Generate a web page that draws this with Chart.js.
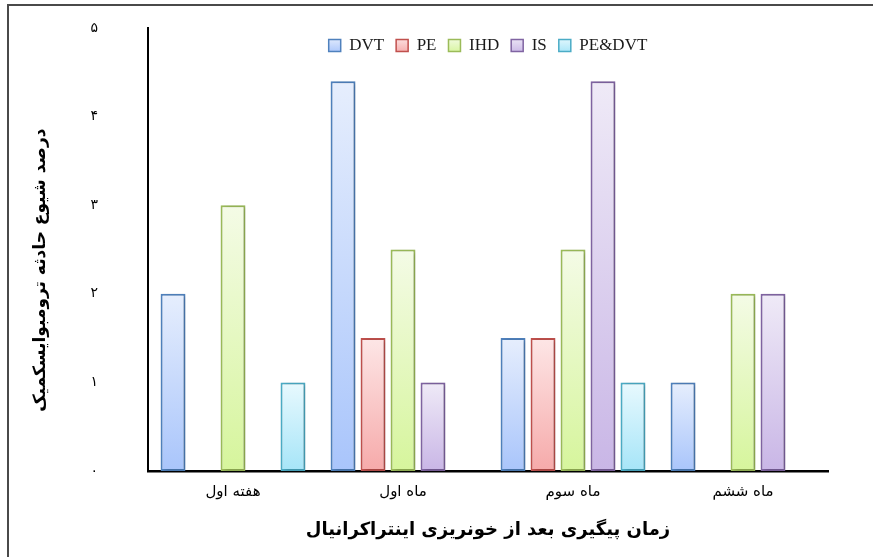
<!DOCTYPE html>
<html lang="fa">
<head>
<meta charset="utf-8">
<title>درصد شیوع حادثه ترومبوایسکمیک</title>
<script src="https://cdn.jsdelivr.net/npm/chart.js@4.4.1/dist/chart.umd.min.js"></script>
<style>
  html, body { margin: 0; padding: 0; background: #fff; }
  #wrap { position: relative; width: 873px; height: 557px; overflow: hidden; }
  #frame {
    position: absolute; left: 7px; top: 4px; right: 0; bottom: 0;
    border-top: 2px solid #4a4a4a; border-left: 2px solid #4a4a4a;
  }
  #chart { position: absolute; left: 0; top: 0; }
</style>
</head>
<body>
<div id="wrap">
  <div id="frame"></div>
  <canvas id="chart" width="873" height="557"></canvas>
</div>
<script>
// data
const categories = ["هفته اول", "ماه اول", "ماه سوم", "ماه ششم"];
const dvtValues = [2, 4.4, 1.5, 1];
const peValues = [0, 1.5, 1.5, 0];
const ihdValues = [3, 2.5, 2.5, 2];
const isValues = [0, 1, 4.4, 2];
const peDvtValues = [1, 0, 1, 0];
const yTickLabels = ["۰", "۱", "۲", "۳", "۴", "۵"];

const seriesNames = ["DVT", "PE", "IHD", "IS", "PE&DVT"];
const seriesValues = [dvtValues, peValues, ihdValues, isValues, peDvtValues];
// [top of gradient, bottom of gradient, border]
const seriesColors = [
  ["#e6eefd", "#a9c5fb", "#4f81bd"],
  ["#fde6e6", "#f6aaaa", "#c0504d"],
  ["#f4fbe6", "#d6f59c", "#9bbb59"],
  ["#efeaf7", "#c9b6e6", "#8064a2"],
  ["#e8f9fe", "#a6e5f8", "#4bacc6"]
];

const LEGEND_PAD = 12;
const LEGEND_ITEM_TOP = 37; // where the legend row should sit, inside the plot
const LEGEND_HEIGHT = 38;   // space the top legend eats in the layout

function barFill(top, bottom) {
  return (ctx) => {
    const chart = ctx.chart;
    const y = chart.scales.y;
    if (!y || ctx.type !== "data") return top;
    const v = ctx.raw || 0;
    const y0 = y.getPixelForValue(0);
    const y1 = y.getPixelForValue(v);
    if (!isFinite(y1) || y0 === y1) return top;
    const g = chart.ctx.createLinearGradient(0, y1, 0, y0);
    g.addColorStop(0, top);
    g.addColorStop(1, bottom);
    return g;
  };
}

const datasets = seriesNames.map((name, i) => ({
  label: name,
  data: seriesValues[i],
  backgroundColor: barFill(seriesColors[i][0], seriesColors[i][1]),
  borderColor: seriesColors[i][2],
  borderWidth: 2,
  borderSkipped: false,
  barPercentage: 0.83,
  categoryPercentage: 0.882
}));

// soft shadow behind the bars
const barShadow = {
  id: "barShadow",
  beforeDatasetsDraw(chart) {
    const c = chart.ctx;
    c.save();
    c.shadowColor = "rgba(0,0,0,0.22)";
    c.shadowBlur = 4;
    c.shadowOffsetX = 2;
    c.shadowOffsetY = 1;
  },
  afterDatasetsDraw(chart) {
    chart.ctx.restore();
  }
};

// legend takes its usual space at the top (eaten by a negative padding),
// then gets moved down so it sits inside the plot like in the original
const legendInside = {
  id: "legendInside",
  afterLayout(chart) {
    const lg = chart.legend;
    if (!lg) return;
    const dy = LEGEND_ITEM_TOP - LEGEND_PAD - lg.top;
    lg.top += dy;
    lg.bottom += dy;
  }
};

const faFont = "'DejaVu Sans', sans-serif";

new Chart(document.getElementById("chart"), {
  type: "bar",
  data: { labels: categories, datasets },
  plugins: [barShadow, legendInside],
  options: {
    responsive: false,
    animation: false,
    layout: { padding: { left: 10, right: 45, top: 27 - LEGEND_HEIGHT, bottom: 8 } },
    plugins: {
      tooltip: { enabled: false },
      legend: {
        position: "top",
        align: "center",
        fullSize: false,
        labels: {
          boxWidth: 12,
          boxHeight: 12,
          padding: LEGEND_PAD,
          color: "#1a1a1a",
          font: { family: "'Liberation Serif', serif", size: 17 },
          generateLabels(chart) {
            const items = Chart.defaults.plugins.legend.labels.generateLabels(chart);
            items.forEach((it, i) => {
              const c = seriesColors[i];
              const g = chart.ctx.createLinearGradient(0, LEGEND_ITEM_TOP, 0, LEGEND_ITEM_TOP + 16);
              g.addColorStop(0, c[0]);
              g.addColorStop(1, c[1]);
              it.fillStyle = g;
              it.strokeStyle = c[2];
              it.lineWidth = 1.5;
            });
            return items;
          }
        }
      }
    },
    scales: {
      x: {
        grid: { display: false, drawTicks: false },
        border: { display: true, color: "#000", width: 2.5 },
        ticks: { color: "#000", font: { family: faFont, size: 15 }, padding: 12 },
        title: {
          display: true,
          text: "زمان پیگیری بعد از خونریزی اینتراکرانیال",
          color: "#000",
          font: { family: faFont, size: 18, weight: "bold" },
          padding: { top: 0, bottom: 8 }
        },
        afterFit(scale) { scale.height = 78; }
      },
      y: {
        min: 0,
        max: 5,
        // tick marks are hidden with the grid; their length just pushes the labels out
        grid: { display: false, drawTicks: true, tickLength: 50 },
        border: { display: true, color: "#000", width: 2 },
        ticks: {
          stepSize: 1,
          color: "#000",
          padding: 0,
          font: { family: faFont, size: 14 },
          callback: (v) => yTickLabels[v]
        },
        title: {
          display: true,
          // trailing no-break spaces nudge the rotated title a bit lower
          text: "درصد شیوع حادثه ترومبوایسکمیک" + "\u00A0".repeat(7),
          color: "#000",
          font: { family: faFont, size: 17, weight: "bold" },
          padding: { top: 20, bottom: 0 }
        },
        afterFit(scale) { scale.width = 138; }
      }
    }
  }
});
</script>
</body>
</html>
